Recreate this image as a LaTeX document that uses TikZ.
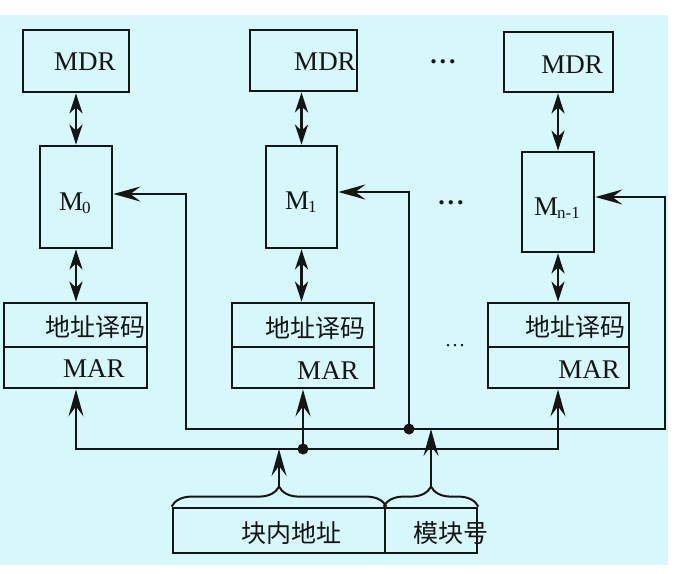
\documentclass[tikz,border=0pt]{standalone}
\usepackage{fontspec}
\setmainfont{Liberation Serif}
\newfontfamily\cjk{Noto Sans CJK SC}
\usetikzlibrary{arrows.meta,decorations.pathreplacing}
\definecolor{bg}{HTML}{D6F8FB}
\definecolor{ink}{HTML}{151515}
\tikzset{
  bigtip/.tip={Stealth[length=27pt,width=15pt,inset=10pt]},
  smalltip/.tip={Stealth[length=20pt,width=13pt,inset=6pt]}
}
\begin{document}
\begin{tikzpicture}[x=1pt,y=-1pt,
  box/.style={draw=ink,line width=2.8pt,inner sep=0pt},
  wire/.style={draw=ink,line width=2.3pt,line join=miter},
  lat/.style={font=\fontsize{27}{27}\selectfont,inner sep=0pt,text=ink},
  han/.style={font=\fontsize{25}{25}\selectfont\cjk,inner sep=0pt,text=ink},
  dotsty/.style={font=\fontsize{26}{26}\selectfont\bfseries,inner sep=0pt,text=ink}]
\useasboundingbox (0,0) rectangle (684,573);
\fill[bg] (0,15) rectangle (668,565);

% MDR boxes
\node[box,minimum width=106pt,minimum height=62pt] (mdr0) at (76,61) {};
\node[box,minimum width=107pt,minimum height=61pt] (mdr1) at (303.5,60.5) {};
\node[box,minimum width=109pt,minimum height=60pt] (mdr2) at (558.5,62) {};
% memory banks
\node[box,minimum width=72pt,minimum height=102pt] (m0) at (76,197) {};
\node[box,minimum width=71pt,minimum height=102pt] (m1) at (301.5,197) {};
\node[box,minimum width=72pt,minimum height=100pt] (m2) at (558,202) {};
% decoder / MAR
\node[box,minimum width=143pt,minimum height=44pt] (dec0t) at (75.5,325) {};
\node[box,minimum width=143pt,minimum height=41pt] (dec0b) at (75.5,367.5) {};
\node[box,minimum width=142pt,minimum height=44pt] (dec1t) at (303,325) {};
\node[box,minimum width=142pt,minimum height=41pt] (dec1b) at (303,367.5) {};
\node[box,minimum width=141pt,minimum height=44pt] (dec2t) at (558.5,325) {};
\node[box,minimum width=141pt,minimum height=41pt] (dec2b) at (558.5,367.5) {};
% address fields
\node[box,minimum width=212pt,minimum height=45pt] (blk) at (279,530.5) {};
\node[box,minimum width=92pt,minimum height=45pt] (mod) at (431,530.5) {};

% texts
\node[lat] (tmdr0) at (85,62) {MDR};
\node[lat] (tmdr1) at (325,62) {MDR};
\node[lat] (tmdr2) at (572,65) {MDR};
\node[lat,anchor=base west] (tm0) at (59,210) {M\kern-1pt\raisebox{-3pt}{\fontsize{17}{17}\selectfont 0}};
\node[lat,anchor=base west] (tm1) at (285,209) {M\kern-1pt\raisebox{-3pt}{\fontsize{17}{17}\selectfont 1}};
\node[lat,anchor=base west] (tm2) at (534,215) {M\kern-1pt\raisebox{-3pt}{\fontsize{17}{17}\selectfont n-1}};
\node[han] (td0) at (95,327) {地址译码};
\node[han] (td1) at (315,328) {地址译码};
\node[han] (td2) at (575,327) {地址译码};
\node[lat] (tr0) at (94,369) {MAR};
\node[lat] (tr1) at (328,371) {MAR};
\node[lat] (tr2) at (589,370) {MAR};
\node[han] (tblk) at (291,533) {块内地址};
\node[han] (tmod) at (451,533) {模块号};
\node[dotsty] (dots1) at (443,62) {.\kern3pt.\kern3pt.};
\node[dotsty] (dots2) at (451,203) {.\kern3pt.\kern3pt.};
\node[dotsty,font=\fontsize{20}{20}\selectfont] (dots3) at (455,346) {.\kern2pt.\kern2pt.};

% data paths
\draw[wire,smalltip-smalltip] (mdr0.south -| m0.north) -- (m0.north);
\draw[wire,smalltip-smalltip] (m0.south) -- (m0.south |- dec0t.north);
\draw[wire,smalltip-smalltip] (mdr1.south -| m1.north) -- (m1.north);
\draw[wire,smalltip-smalltip] (m1.south) -- (m1.south |- dec1t.north);
\draw[wire,smalltip-smalltip] (mdr2.south -| m2.north) -- (m2.north);
\draw[wire,smalltip-smalltip] (m2.south) -- (m2.south |- dec2t.north);

% wires
\coordinate (lw0) at (76,449);
\coordinate (lw1) at (303,449);
\coordinate (lw2) at (558,449);
\coordinate (uw0) at (186,429);
\coordinate (uw1) at (409,429);
\coordinate (uw2) at (665,429);
\coordinate (k0) at (186,194);
\coordinate (k1) at (409,192);
\coordinate (k2) at (665,197);

\draw[wire,bigtip-bigtip] (lw0 |- dec0b.south) -- (lw0) -- (lw2) -- (lw2 |- dec2b.south);
\draw[wire,-bigtip] (lw1) -- (lw1 |- dec1b.south);
\draw[wire,bigtip-bigtip] (k0 -| m0.east) -- (k0) -- (uw0) -- (uw2) -- (k2) -- (k2 -| m2.east);
\draw[wire,-bigtip] (uw1) -- (k1) -- (k1 -| m1.east);
\fill[ink] (lw1) circle (5.5pt);
\fill[ink] (uw1) circle (5.5pt);

% braces
\draw[wire,line width=2pt,decorate,decoration={brace,amplitude=20pt}] (blk.north west) -- (blk.north east);
\draw[wire,line width=2pt,decorate,decoration={brace,amplitude=20pt}] (mod.north west) -- (mod.north east);
\coordinate (bt0) at ([yshift=20pt]blk.north);
\coordinate (bt1) at ([yshift=20pt]mod.north);
\draw[wire,-bigtip] (bt0) -- (bt0 |- lw0);
\draw[wire,-bigtip] (bt1) -- (bt1 |- uw0);
\end{tikzpicture}
\end{document}
